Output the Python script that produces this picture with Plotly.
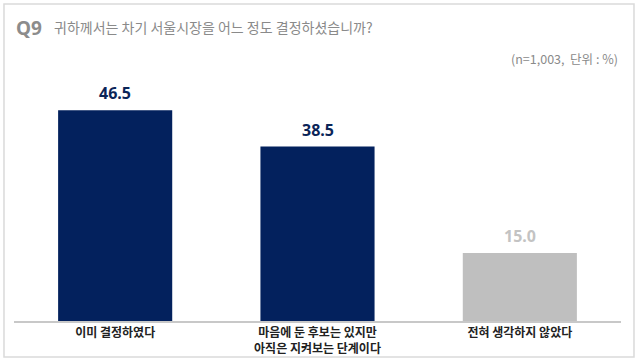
import plotly.graph_objects as go

categories = ["이미 결정하였다", "마음에 둔 후보는 있지만<br>아직은 지켜보는 단계이다", "전혀 생각하지 않았다"]
values = [46.5, 38.5, 15.0]
bar_colors = ["#03215d", "#03215d", "#bfbfbf"]
label_colors = ["#0b2558", "#0b2558", "#c3c3c3"]

title_q = "Q9"
title_text = "귀하께서는 차기 서울시장을 어느 정도 결정하셨습니까?"
subtitle = "(n=1,003,  단위 : %)"

FONT = "Noto Sans CJK KR"

fig = go.Figure()
fig.add_trace(go.Bar(
    x=categories, y=values,
    marker=dict(color=bar_colors, line=dict(width=0)),
    hoverinfo="skip",
))

for c, v, col in zip(categories, values, label_colors):
    fig.add_annotation(
        x=c, y=v, text=f"<b>{v:.1f}</b>", showarrow=False,
        yanchor="bottom", yshift=4,
        font=dict(family="Noto Sans", size=16, color=col),
    )

fig.add_annotation(xref="paper", yref="paper", x=0.0, y=1.216, xanchor="left", yanchor="middle",
                   text=f"<b>{title_q}</b>", showarrow=False,
                   font=dict(family="Noto Sans", size=19, color="#8c8c8c"))
fig.add_annotation(xref="paper", yref="paper", x=0.062, y=1.218, xanchor="left", yanchor="middle",
                   text=title_text, showarrow=False,
                   font=dict(family=FONT, size=14, color="#8a8a8a"))
fig.add_annotation(xref="paper", yref="paper", x=0.998, y=1.091, xanchor="right", yanchor="middle",
                   text=subtitle, showarrow=False,
                   font=dict(family=FONT, size=12.5, color="#8a8a8a"))

fig.add_shape(type="rect", xref="paper", yref="paper",
              x0=-0.0165, x1=1.0214, y0=-0.149, y1=1.315,
              line=dict(color="#dadada", width=1.5), fillcolor="rgba(0,0,0,0)", layer="below")

fig.update_layout(
    width=640, height=361,
    margin=dict(l=14, r=19, t=80, b=40),
    paper_bgcolor="white", plot_bgcolor="white",
    bargap=0.436,
    showlegend=False,
    font=dict(family=FONT),
    xaxis=dict(showline=True, linecolor="#c8c8c8", linewidth=2, ticks="",
               tickfont=dict(family=FONT, size=12, color="#222222"),
               showgrid=False, zeroline=False, automargin=False),
    yaxis=dict(range=[0, 53.2], visible=False, showgrid=False, zeroline=False, automargin=False),
)
fig.update_xaxes(tickvals=categories, ticktext=[f"<b>{c}</b>" for c in categories])

fig.write_html("out.html", config={"displayModeBar": False},
               post_script="document.body.style.margin='0';document.body.style.overflow='hidden';")
